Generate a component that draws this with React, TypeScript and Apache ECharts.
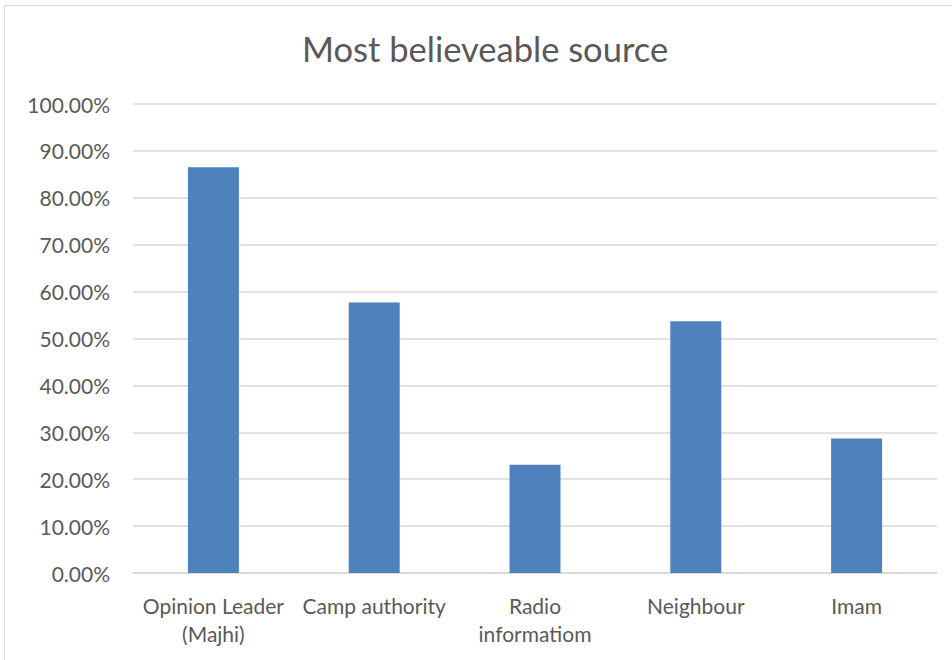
import React, { useEffect, useRef } from "react";
import * as echarts from "echarts";

const categories = ["Opinion Leader\n(Majhi)", "Camp authority", "Radio\ninformatiom", "Neighbour", "Imam"];
const values = [86.5, 57.7, 23.1, 53.7, 28.7];
const titleText = "Most believeable source";

export default function App() {
  const ref = useRef<HTMLDivElement>(null);
  useEffect(() => {
    if (!ref.current) return;
    const chart = echarts.init(ref.current, null, { renderer: "svg" });
    chart.setOption({
      animation: false,
      backgroundColor: "#ffffff",
      title: {
        text: titleText,
        left: 297,
        top: 26,
        textStyle: { fontFamily: "Lato", fontSize: 34.5, fontWeight: "normal", color: "#595959" },
      },
      graphic: [
        {
          type: "rect",
          shape: { x: 4.5, y: 5.5, width: 1000, height: 1000 },
          style: { fill: "none", stroke: "#d9d9d9", lineWidth: 1 },
          silent: true,
          z: -1,
        },
      ],
      grid: { left: 133, right: 15, top: 104, bottom: 87, containLabel: false },
      xAxis: {
        type: "category",
        data: categories,
        axisLine: { lineStyle: { color: "#d9d9d9", width: 1.5 } },
        axisTick: { show: false },
        axisLabel: {
          color: "#595959",
          fontFamily: "Lato",
          fontSize: 21,
          margin: 18,
          lineHeight: 28,
          interval: 0,
        },
      },
      yAxis: {
        type: "value",
        min: 0,
        max: 100,
        interval: 10,
        axisLine: { show: false },
        axisTick: { show: false },
        splitLine: { lineStyle: { color: "#d9d9d9", width: 1.5 } },
        axisLabel: {
          color: "#595959",
          fontFamily: "Lato",
          fontSize: 21,
          margin: 23,
          formatter: (v: number) => v.toFixed(2) + "%",
        },
      },
      series: [
        {
          type: "bar",
          data: values,
          barWidth: 51,
          itemStyle: { color: "#4F81BD" },
        },
      ],
    });
    return () => chart.dispose();
  }, []);
  return (
    <div
      ref={ref}
      style={{ position: "fixed", left: 0, top: 0, width: 952, height: 660, background: "#fff" }}
    />
  );
}
